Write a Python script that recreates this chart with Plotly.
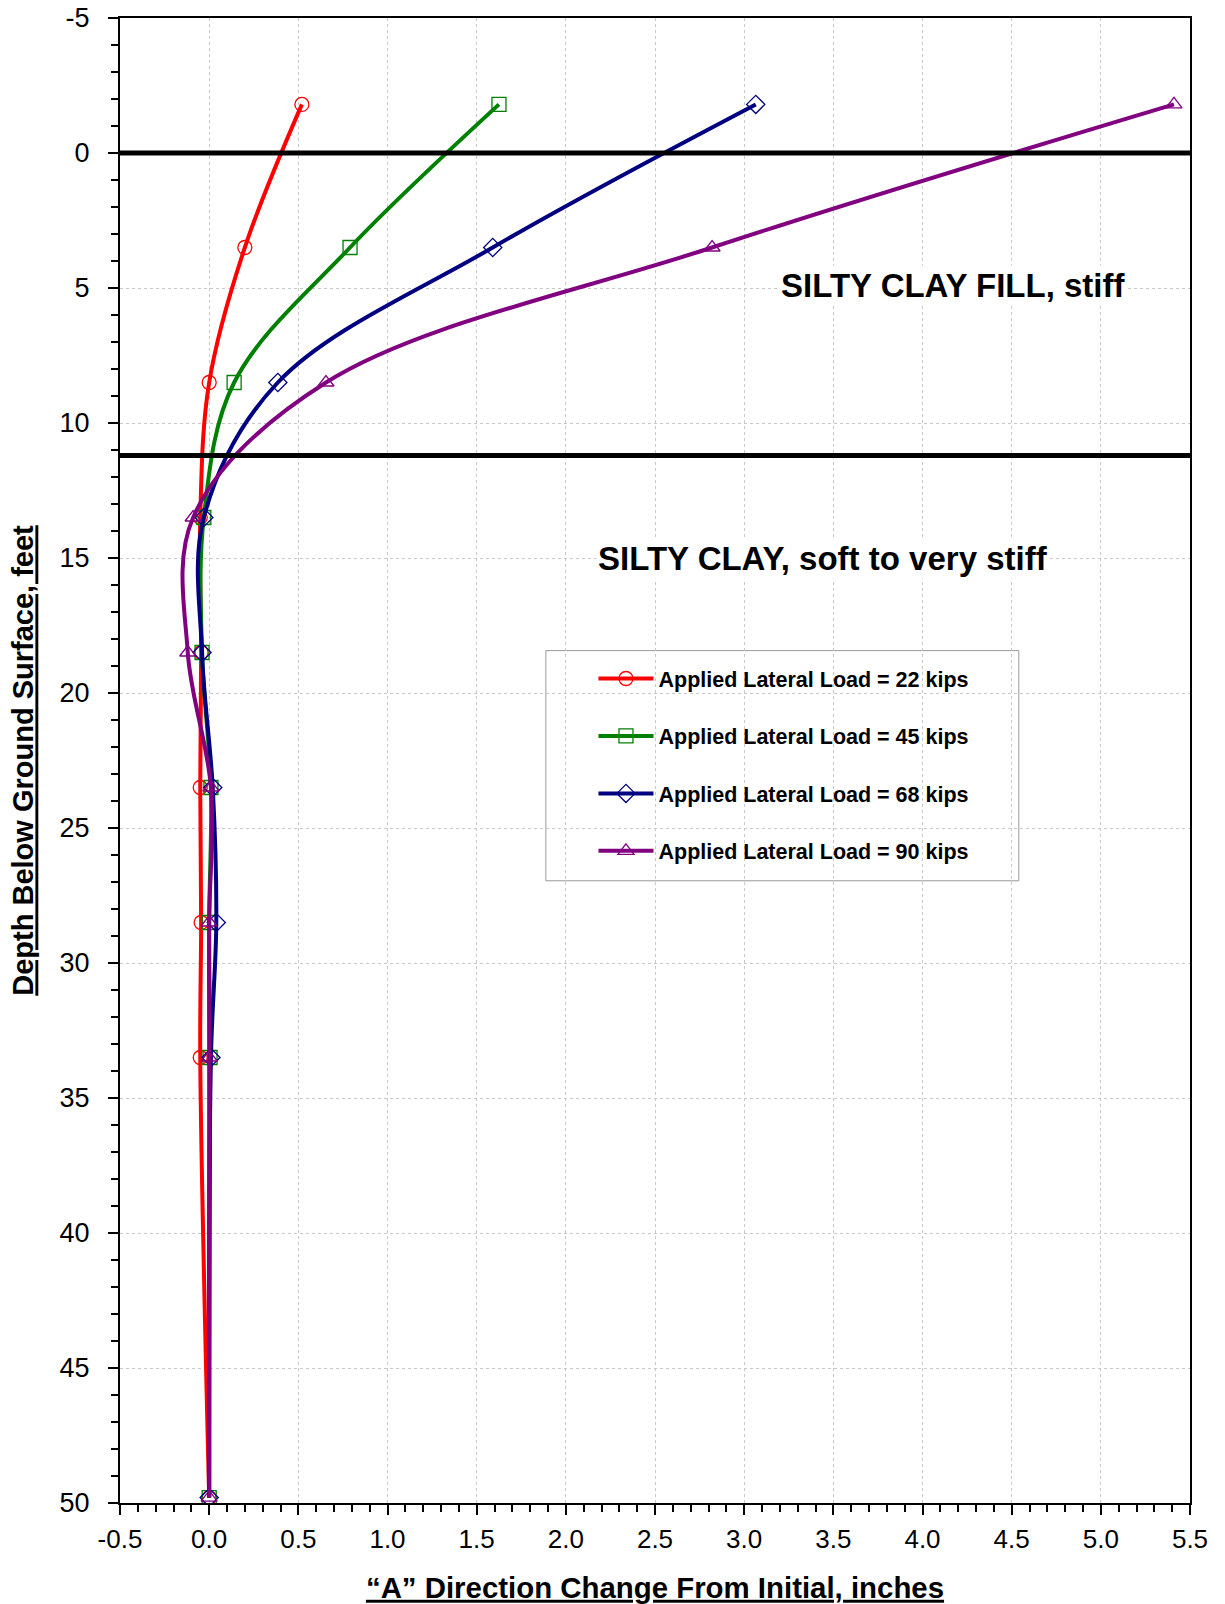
import plotly.graph_objects as go

# ---- data ----
depth_ft = [-1.8, 3.5, 8.5, 13.5, 18.5, 23.5, 28.5, 33.5, 49.8]
load_labels = ["Applied Lateral Load = 22 kips", "Applied Lateral Load = 45 kips",
               "Applied Lateral Load = 68 kips", "Applied Lateral Load = 90 kips"]
defl_22 = [0.52, 0.20, 0.00, -0.05, -0.045, -0.05, -0.045, -0.05, 0.0]
defl_45 = [1.625, 0.79, 0.14, -0.03, -0.04, 0.01, 0.0, 0.005, 0.0]
defl_68 = [3.065, 1.59, 0.385, -0.03, -0.04, 0.02, 0.04, 0.01, 0.0]
defl_90 = [5.41, 2.82, 0.655, -0.09, -0.12, 0.01, 0.0, 0.0, 0.0]
layer_boundaries = [0, 11.2]
layer_names = ["SILTY CLAY FILL, stiff", "SILTY CLAY, soft to very stiff"]
layer_label_pos = [(4.17, 4.9), (3.44, 15.0)]

x_tickvals = [-0.5, 0.0, 0.5, 1.0, 1.5, 2.0, 2.5, 3.0, 3.5, 4.0, 4.5, 5.0, 5.5]
x_ticktext = ["-0.5", "0.0", "0.5", "1.0", "1.5", "2.0", "2.5", "3.0", "3.5", "4.0", "4.5", "5.0", "5.5"]
y_tickvals = [-5, 0, 5, 10, 15, 20, 25, 30, 35, 40, 45, 50]
y_ticktext = ["-5", "0", "5", "10", "15", "20", "25", "30", "35", "40", "45", "50"]

series = [defl_22, defl_45, defl_68, defl_90]
colors = ["#ff0000", "#008000", "#000080", "#800080"]
symbols = ["circle-open", "square-open", "diamond-open", "triangle-up-open"]

FONT = "Liberation Sans, Arial, sans-serif"

fig = go.Figure()
for i, (vals, name, c, s) in enumerate(zip(series, load_labels, colors, symbols)):
    fig.add_trace(go.Scatter(
        x=vals, y=depth_ft, name=name, mode="lines+markers",
        line=dict(color=c, width=4, shape="spline", smoothing=1),
        marker=dict(symbol=s, size=14, color=c, line=dict(width=1.3, color=c)),
        legendgroup=f"g{i}",
    ))

for b in layer_boundaries:
    fig.add_hline(y=b, line=dict(color="black", width=5), layer="above")

for txt, (ax, ay) in zip(layer_names, layer_label_pos):
    fig.add_annotation(x=ax, y=ay, text=f"<b>{txt}</b>", showarrow=False,
                       font=dict(family=FONT, size=33, color="black"),
                       bgcolor="white", xanchor="center", yanchor="middle")

# legend box
fig.add_shape(type="rect", xref="paper", yref="paper", x0=0.398, x1=0.840, y0=0.419, y1=0.574,
              fillcolor="white", line=dict(color="#999999", width=1), layer="between")

fig.update_layout(
    width=1225, height=1604,
    margin=dict(l=120, r=35, t=18, b=101, autoexpand=False),
    paper_bgcolor="white", plot_bgcolor="white",
    showlegend=True,
    legend=dict(x=0.4425, y=0.569, xanchor="left", yanchor="top",
                bgcolor="rgba(0,0,0,0)", borderwidth=0,
                font=dict(family=FONT, size=21.5, color="black", weight="bold"),
                itemwidth=55, tracegroupgap=26.5, traceorder="grouped"),
)

fig.update_xaxes(
    range=[-0.5, 5.5], tickmode="array", tickvals=x_tickvals, ticktext=x_ticktext,
    automargin=False, ticklabeloverflow="allow",
    showline=True, linecolor="black", linewidth=2, mirror=True,
    ticks="outside", ticklen=10, tickwidth=2, tickcolor="black",
    ticklabelstandoff=2,
    tickfont=dict(family=FONT, size=26, color="black"),
    showgrid=True, gridcolor="#c8c8c8", gridwidth=1, griddash="dot",
    minor=dict(dtick=0.1, tick0=0, ticks="outside", ticklen=7, tickwidth=2, tickcolor="black", showgrid=False),
    zeroline=False,
    title=dict(text="<b><u>“A” Direction Change From Initial, inches</u></b>",
               font=dict(family=FONT, size=29.4, color="black"),
               standoff=24),
)
fig.update_yaxes(
    range=[50, -5], tickmode="array", tickvals=y_tickvals, ticktext=y_ticktext,
    automargin=False, ticklabeloverflow="allow",
    showline=True, linecolor="black", linewidth=2, mirror=True,
    ticks="outside", ticklen=10, tickwidth=2, tickcolor="black",
    ticklabelstandoff=13,
    tickfont=dict(family=FONT, size=27, color="black"),
    showgrid=True, gridcolor="#c8c8c8", gridwidth=1, griddash="dot",
    minor=dict(dtick=1, tick0=0, ticks="outside", ticklen=7, tickwidth=2, tickcolor="black", showgrid=False),
    zeroline=False,
    title=dict(text="<b><u>Depth Below Ground Surface, feet</u></b>",
               font=dict(family=FONT, size=29, color="black"),
               standoff=17),
)

fig.write_html("out.html", config={"displayModeBar": False},
               post_script="document.body.style.margin='0';document.body.style.overflow='hidden';")
